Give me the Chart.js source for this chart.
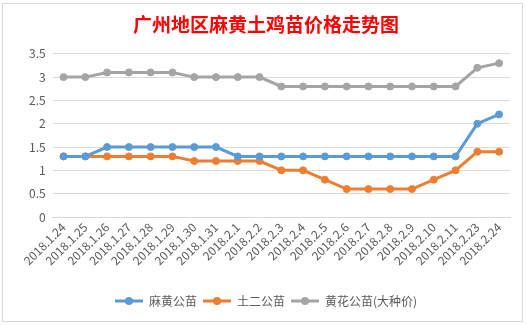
<!DOCTYPE html>
<html>
<head>
<meta charset="utf-8">
<script src="https://cdn.jsdelivr.net/npm/chart.js@4/dist/chart.umd.min.js"></script>
<style>
    html, body { margin: 0; padding: 0; background: #fff; }
    body { width: 527px; height: 325px; position: relative; overflow: hidden; }
    .frame {
        position: absolute; left: 2px; top: 3px;
        width: 519px; height: 317px;
        border: 1px solid #d9d9d9;
    }
    canvas { display: block; }
</style>
</head>
<body>
<div class="frame"><canvas id="chart" width="519" height="317"></canvas></div>
<script>
const dates = [
    '2018.1.24', '2018.1.25', '2018.1.26', '2018.1.27', '2018.1.28', '2018.1.29', '2018.1.30',
    '2018.1.31', '2018.2.1', '2018.2.2', '2018.2.3', '2018.2.4', '2018.2.5', '2018.2.6',
    '2018.2.7', '2018.2.8', '2018.2.9', '2018.2.10', '2018.2.11', '2018.2.23', '2018.2.24',
];
const mahuang = [1.3, 1.3, 1.5, 1.5, 1.5, 1.5, 1.5, 1.5, 1.3, 1.3, 1.3, 1.3, 1.3, 1.3, 1.3, 1.3, 1.3, 1.3, 1.3, 2.0, 2.2];
const tuer = [1.3, 1.3, 1.3, 1.3, 1.3, 1.3, 1.2, 1.2, 1.2, 1.2, 1.0, 1.0, 0.8, 0.6, 0.6, 0.6, 0.6, 0.8, 1.0, 1.4, 1.4];
const huanghua = [3.0, 3.0, 3.1, 3.1, 3.1, 3.1, 3.0, 3.0, 3.0, 3.0, 2.8, 2.8, 2.8, 2.8, 2.8, 2.8, 2.8, 2.8, 2.8, 3.2, 3.3];
const yTicks = [0, 0.5, 1, 1.5, 2, 2.5, 3, 3.5];

const colors = { blue: '#5b9bd5', orange: '#ed7d31', grey: '#a5a5a5' };
const textColor = '#595959';
const font = "'Noto Sans CJK SC', 'Noto Sans', sans-serif";

// line-with-dot swatch for the legend
function legendMark(color) {
    const c = document.createElement('canvas');
    c.width = 28;
    c.height = 10;
    const g = c.getContext('2d');
    g.strokeStyle = color;
    g.lineWidth = 3;
    g.beginPath();
    g.moveTo(0, 5);
    g.lineTo(28, 5);
    g.stroke();
    g.fillStyle = color;
    g.beginPath();
    g.arc(14, 5, 4, 0, Math.PI * 2);
    g.fill();
    return c;
}

function series(label, data, color) {
    return {
        label,
        data,
        borderColor: color,
        backgroundColor: color,
        borderWidth: 3,
        pointRadius: 3.5,
        pointBorderWidth: 1,
        pointBackgroundColor: color,
        pointBorderColor: color,
        tension: 0,
        mark: legendMark(color),
    };
}

new Chart(document.getElementById('chart'), {
    type: 'line',
    data: {
        labels: dates,
        datasets: [
            series('麻黄公苗', mahuang, colors.blue),
            series('土二公苗', tuer, colors.orange),
            series('黄花公苗(大种价)', huanghua, colors.grey),
        ],
    },
    options: {
        responsive: false,
        animation: false,
        layout: { padding: { left: 19, right: 12, top: 0, bottom: 4 } },
        plugins: {
            title: {
                display: true,
                text: '广州地区麻黄土鸡苗价格走势图',
                color: '#ff0000',
                font: { family: font, size: 19, weight: 'bold' },
                padding: { top: 9, bottom: 18 },
            },
            legend: {
                position: 'bottom',
                labels: {
                    usePointStyle: true,
                    pointStyleWidth: 28,
                    padding: 6,
                    color: textColor,
                    font: { family: font, size: 12 },
                    generateLabels: chart => Chart.defaults.plugins.legend.labels.generateLabels(chart)
                        .map(item => ({ ...item, pointStyle: chart.data.datasets[item.datasetIndex].mark })),
                },
            },
            tooltip: { enabled: false },
        },
        scales: {
            x: {
                offset: true,
                grid: { display: false, drawTicks: false, offset: true },
                border: { color: '#d9d9d9' },
                afterFit: scale => { scale.height = 72; },
                ticks: {
                    color: textColor,
                    font: { family: font, size: 12 },
                    minRotation: 45,
                    maxRotation: 45,
                    autoSkip: false,
                    padding: 3,
                },
            },
            y: {
                min: 0,
                max: 3.5,
                afterBuildTicks: scale => { scale.ticks = yTicks.map(value => ({ value })); },
                grid: { color: '#d9d9d9', drawTicks: false },
                border: { display: false },
                ticks: {
                    color: textColor,
                    font: { family: font, size: 12 },
                    padding: 7,
                    callback: value => String(value),
                },
            },
        },
    },
});
</script>
</body>
</html>
